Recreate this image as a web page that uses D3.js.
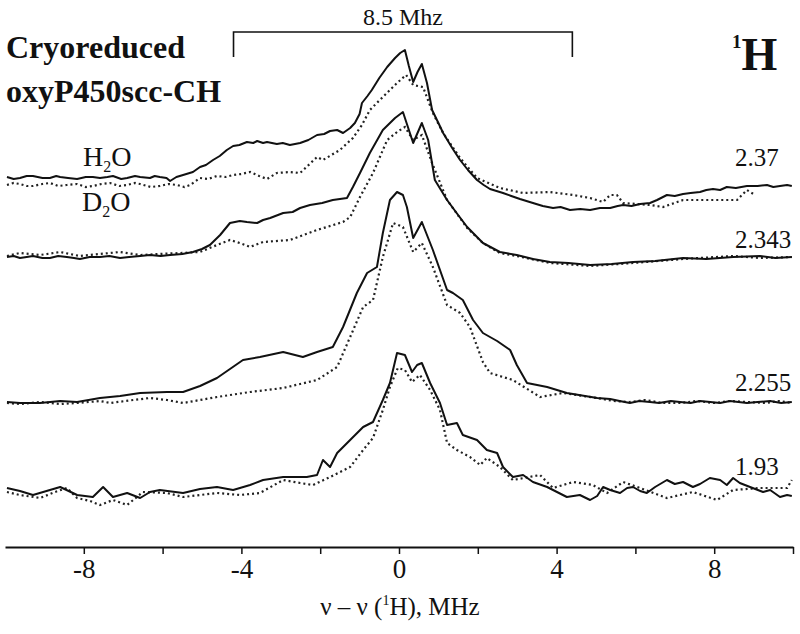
<!DOCTYPE html>
<html><head><meta charset="utf-8">
<script src="https://cdn.jsdelivr.net/npm/d3@7"></script>
<style>body{margin:0;background:#fff}svg{display:block}text{font-family:"Liberation Serif","Times New Roman",serif !important;fill:#111}</style>
</head><body><svg id="c" width="800" height="634"></svg>
<script>
// ---- data (x in MHz, y = intensity above each trace's own baseline, a.u.) ----
const traceLabels = ["2.37", "2.343", "2.255", "1.93"];
const traceOffsets = [369, 290, 145, 57];
const xTicks = [-8, -6, -4, -2, 0, 2, 4, 6, 8, 10];
const xTickLabels = [-8, -4, 0, 4, 8];
const bracket = [-4.2, 4.4];

const h2o_237 = [[-9.95,1],[-9.78,-1],[-9.62,0],[-9.45,2],[-9.29,2],[-9.05,0],[-8.86,0],[-8.70,2],[-8.60,1],[-8.40,0],[-8.17,-1],[-7.95,1],[-7.77,1],[-7.59,0],[-7.40,1],[-7.26,2],[-7.05,-1],[-6.90,0],[-6.70,2],[-6.57,1],[-6.32,0],[-6.20,2],[-6.07,1],[-5.90,0],[-5.81,-3],[-5.65,1],[-5.48,3],[-5.23,6],[-5.05,11],[-4.90,13],[-4.72,18],[-4.55,22],[-4.37,28],[-4.21,32],[-4.05,33],[-3.86,36],[-3.70,35],[-3.60,37],[-3.45,35],[-3.35,36],[-3.10,34],[-2.95,35],[-2.77,33],[-2.51,35],[-2.30,38],[-2.08,43],[-1.90,44],[-1.75,47],[-1.57,48],[-1.42,45],[-1.24,50],[-1.12,55],[-1.00,64],[-0.94,75],[-0.80,82],[-0.69,88],[-0.50,100],[-0.30,111],[-0.10,120],[0.03,125],[0.15,128],[0.25,112],[0.36,96],[0.47,106],[0.58,114],[0.71,95],[0.84,68],[1.00,55],[1.12,45],[1.35,30],[1.55,18],[1.75,8],[1.98,-2],[2.15,-7],[2.31,-11],[2.64,-15],[2.85,-18],[3.07,-21],[3.40,-25],[3.65,-28],[3.91,-30],[4.10,-29],[4.34,-32],[4.60,-31],[4.85,-32],[5.10,-30],[5.36,-30],[5.55,-28],[5.69,-27],[5.90,-28],[6.12,-26],[6.37,-25],[6.55,-22],[6.80,-17],[7.00,-18],[7.21,-16],[7.40,-15],[7.64,-14],[7.80,-12],[7.97,-11],[8.15,-12],[8.32,-9],[8.55,-10],[8.83,-8],[9.10,-8],[9.34,-7],[9.50,-9],[9.67,-8],[9.85,-7],[9.97,-8]];
const d2o_237 = [[-9.95,-7],[-9.78,-5],[-9.62,-6],[-9.45,-8],[-9.29,-8],[-9.05,-6],[-8.86,-5],[-8.65,-8],[-8.43,-7],[-8.17,-6],[-7.95,-9],[-7.77,-8],[-7.55,-6],[-7.33,-5],[-7.10,-8],[-6.90,-7],[-6.70,-5],[-6.57,-6],[-6.30,-9],[-6.07,-8],[-5.85,-6],[-5.63,-7],[-5.45,-9],[-5.30,-7],[-5.05,0],[-4.85,-1],[-4.62,2],[-4.40,1],[-4.21,3],[-4.00,4],[-3.78,6],[-3.55,2],[-3.35,-1],[-3.10,5],[-2.77,6],[-2.51,5],[-2.08,21],[-1.93,18],[-1.50,28],[-1.17,40],[-0.94,53],[-0.74,68],[-0.41,81],[-0.05,95],[0.18,103],[0.36,93],[0.61,91],[0.86,65],[1.12,45],[1.55,20],[1.98,0],[2.56,-10],[3.15,-15],[3.83,-14],[4.42,-17],[4.85,-20],[5.18,-24],[5.36,-17],[5.53,-17],[5.69,-25],[6.37,-27],[6.70,-29],[7.21,-22],[7.89,-22],[8.58,-22],[8.83,-12],[9.04,-17]];
const h2o_2343 = [[-9.95,0],[-9.78,1],[-9.62,-1],[-9.45,0],[-9.29,1],[-9.05,-1],[-8.86,-1],[-8.65,1],[-8.43,0],[-8.25,-1],[-8.10,-2],[-7.85,0],[-7.59,0],[-7.35,1],[-7.08,-1],[-6.85,0],[-6.57,1],[-6.32,2],[-6.05,1],[-5.81,2],[-5.50,3],[-5.23,5],[-5.00,8],[-4.80,12],[-4.54,22],[-4.29,34],[-4.04,36],[-3.86,35],[-3.60,34],[-3.45,37],[-3.27,39],[-2.94,44],[-2.70,45],[-2.51,49],[-2.26,52],[-1.95,54],[-1.68,57],[-1.32,59],[-1.17,70],[-0.99,84],[-0.74,104],[-0.41,127],[-0.10,139],[0.10,145],[0.36,114],[0.58,134],[0.74,117],[0.91,77],[1.22,57],[1.50,42],[1.73,30],[2.13,14],[2.56,5],[2.99,2],[3.40,-2],[3.83,-5],[4.30,-6],[4.85,-8],[5.40,-7],[5.94,-5],[6.50,-4],[7.21,-1],[7.80,-2],[8.48,0],[9.16,1],[9.55,-1],[9.97,0]];
const d2o_2343 = [[-9.95,1],[-9.62,4],[-9.11,2],[-8.60,5],[-8.10,1],[-7.59,3],[-7.08,5],[-6.57,2],[-6.07,3],[-5.56,4],[-5.05,5],[-4.62,12],[-4.29,17],[-4.04,14],[-3.78,10],[-3.45,15],[-2.77,17],[-2.08,27],[-1.42,35],[-1.24,40],[-0.99,60],[-0.66,84],[-0.30,117],[-0.05,125],[0.15,130],[0.36,117],[0.58,122],[0.84,94],[1.22,57],[1.73,29],[2.13,14],[2.56,4],[2.99,1],[3.83,-6],[4.85,-9],[5.94,-6],[7.21,-2],[8.48,1],[9.16,-1],[9.97,0]];
const h2o_2255 = [[-9.95,0],[-9.62,-1],[-9.11,-1],[-8.60,1],[-8.17,0],[-7.59,4],[-7.08,6],[-6.57,9],[-5.89,10],[-5.48,10],[-5.05,16],[-4.62,24],[-4.29,33],[-3.96,42],[-3.53,45],[-2.94,50],[-2.44,45],[-2.08,50],[-1.68,55],[-1.42,75],[-1.07,109],[-0.81,129],[-0.56,135],[-0.41,169],[-0.23,202],[-0.05,210],[0.10,207],[0.20,195],[0.36,164],[0.58,180],[0.86,152],[1.22,112],[1.37,109],[1.62,102],[1.88,82],[2.13,69],[2.49,61],[2.82,52],[2.99,37],[3.25,19],[3.76,15],[4.26,9],[5.03,4],[5.36,3],[5.60,1],[5.86,-1],[6.10,1],[6.37,0],[6.60,-1],[6.90,1],[7.13,0],[7.40,-1],[7.64,1],[7.90,0],[8.15,-1],[8.40,1],[8.83,-1],[9.10,0],[9.42,1],[9.70,-1],[9.97,0]];
const d2o_2255 = [[-9.95,-1],[-9.62,-2],[-9.11,0],[-8.60,-2],[-8.17,-1],[-7.59,1],[-7.33,-1],[-6.75,2],[-6.32,4],[-5.89,2],[-5.48,-1],[-4.62,5],[-3.78,10],[-2.94,14],[-2.08,22],[-1.57,35],[-1.24,65],[-0.91,95],[-0.66,102],[-0.41,145],[-0.15,179],[0.10,175],[0.36,150],[0.58,159],[0.86,135],[1.22,97],[1.55,89],[1.80,75],[2.13,40],[2.31,29],[2.64,25],[2.89,22],[3.58,5],[4.16,9],[5.03,4],[5.45,1],[5.86,0],[6.25,2],[6.70,-1],[7.13,-1],[7.55,1],[8.00,-1],[8.40,1],[8.83,0],[9.30,-1],[9.65,1],[9.97,-1]];
const h2o_193 = [[-9.95,2],[-9.62,-1],[-9.29,-5],[-8.86,0],[-8.60,3],[-8.17,-5],[-7.77,-7],[-7.51,3],[-7.26,-7],[-6.90,-3],[-6.57,-8],[-6.32,-2],[-6.07,0],[-5.48,-3],[-5.05,1],[-4.62,3],[-4.21,0],[-3.78,5],[-3.45,10],[-2.94,13],[-2.34,13],[-2.08,15],[-1.93,30],[-1.75,23],[-1.57,37],[-1.24,50],[-0.91,63],[-0.66,68],[-0.41,90],[-0.23,107],[-0.05,137],[0.15,135],[0.33,118],[0.46,125],[0.58,127],[0.79,107],[1.04,87],[1.22,65],[1.47,67],[1.62,55],[1.98,50],[2.23,40],[2.49,37],[2.64,23],[2.89,13],[3.15,15],[3.40,8],[3.76,3],[4.26,-7],[4.59,-5],[4.85,-10],[5.03,-6],[5.18,3],[5.36,0],[5.61,-3],[5.79,2],[5.94,3],[6.12,-1],[6.29,-3],[6.50,3],[6.80,10],[7.00,6],[7.21,8],[7.46,3],[7.64,6],[7.89,12],[8.15,10],[8.32,5],[8.48,12],[8.65,7],[8.91,3],[9.24,-2],[9.42,0],[9.67,-7],[9.85,-5],[9.97,-6]];
const d2o_193 = [[-9.95,-2],[-9.62,-5],[-9.11,-8],[-8.73,-2],[-8.43,2],[-8.17,-8],[-7.84,-11],[-7.59,-15],[-7.26,-10],[-6.90,-15],[-6.50,-2],[-5.89,-3],[-5.48,-7],[-5.05,-5],[-4.62,-3],[-4.04,-5],[-3.53,-3],[-2.94,10],[-2.51,7],[-2.18,5],[-1.75,13],[-1.24,23],[-0.91,40],[-0.66,52],[-0.41,80],[-0.23,103],[-0.03,122],[0.15,120],[0.33,108],[0.53,115],[0.79,100],[1.04,80],[1.22,47],[1.47,40],[1.80,33],[2.06,25],[2.23,32],[2.56,23],[2.89,10],[3.58,15],[3.91,2],[4.42,8],[4.92,5],[5.28,-3],[5.69,8],[6.12,2],[6.80,-8],[7.46,-2],[8.07,-10],[8.48,0],[9.16,2],[9.49,2],[9.85,2],[9.97,10]];

const solidSeries = [h2o_237, h2o_2343, h2o_2255, h2o_193];
const dottedSeries = [d2o_237, d2o_2343, d2o_2255, d2o_193];

// ---- drawing ----
const FONT = "'Liberation Serif', 'Times New Roman', serif";
const svg = d3.select("#c");
const x = d3.scaleLinear().domain([-10, 10]).range([5, 793]);
const y = d3.scaleLinear().domain([0, 540]).range([547, 7]);

const line = off => d3.line().x(d => x(d[0])).y(d => y(off + d[1])).curve(d3.curveLinear);

dottedSeries.forEach((s, i) => {
  svg.append("path").attr("d", line(traceOffsets[i])(s))
    .attr("fill", "none").attr("stroke", "#222").attr("stroke-width", 2.2)
    .attr("stroke-dasharray", "2,3");
});
solidSeries.forEach((s, i) => {
  svg.append("path").attr("d", line(traceOffsets[i])(s))
    .attr("fill", "none").attr("stroke", "#111").attr("stroke-width", 2)
    .attr("stroke-linejoin", "round");
});

// axis
const ax = svg.append("g").attr("transform", "translate(0,547)")
  .call(d3.axisBottom(x).tickValues(xTicks).tickSizeInner(7).tickSizeOuter(0).tickPadding(5)
    .tickFormat(d => xTickLabels.includes(d) ? String(d) : ""));
ax.attr("font-family", FONT);
ax.select(".domain").attr("stroke", "#111").attr("stroke-width", 2.2);
ax.selectAll(".tick line").attr("stroke", "#111").attr("stroke-width", 1.5);
ax.selectAll(".tick text").attr("font-size", 27).attr("fill", "#111").style("font-family", FONT);

const xl = svg.append("text").attr("x", 400).attr("y", 615).attr("text-anchor", "middle").attr("font-size", 25).style("font-family", FONT);
xl.append("tspan").text("ν – ν (");
xl.append("tspan").attr("font-size", 14).attr("dy", -10).text("1");
xl.append("tspan").attr("dy", 10).text("H), MHz");

// bracket
const by = 32;
svg.append("path")
  .attr("d", `M${x(bracket[0])},57V${by}H${x(bracket[1])}V57`)
  .attr("fill", "none").attr("stroke", "#111").attr("stroke-width", 1.6);
svg.append("text").attr("x", x((bracket[0] + bracket[1]) / 2)).attr("y", 25)
  .attr("text-anchor", "middle").attr("font-size", 24).style("font-family", FONT).text("8.5 Mhz");

// titles
svg.append("text").attr("x", 6).attr("y", 58).attr("font-size", 32).attr("font-weight", "bold").style("font-family", FONT).text("Cryoreduced");
svg.append("text").attr("x", 6).attr("y", 102).attr("font-size", 32).attr("font-weight", "bold").style("font-family", FONT).text("oxyP450scc-CH");

const hh = svg.append("text").attr("x", 732).attr("y", 70).attr("font-weight", "bold").style("font-family", FONT);
hh.append("tspan").attr("font-size", 19).attr("dy", -22).text("1");
hh.append("tspan").attr("font-size", 46).attr("dy", 22).text("H");

// H2O / D2O
function formula(el, a, sub, b) {
  el.style("font-family", FONT);
  el.append("tspan").text(a);
  el.append("tspan").attr("font-size", 16).attr("dy", 6).text(sub);
  el.append("tspan").attr("dy", -6).text(b);
}
formula(svg.append("text").attr("x", 83).attr("y", 166).attr("font-size", 28), "H", "2", "O");
formula(svg.append("text").attr("x", 82).attr("y", 211).attr("font-size", 28), "D", "2", "O");

// trace labels
const labelY = [166, 248, 391, 475];
traceLabels.forEach((t, i) => {
  svg.append("text").attr("x", 735).attr("y", labelY[i]).attr("font-size", 25).style("font-family", FONT).text(t);
});
</script></body></html>
